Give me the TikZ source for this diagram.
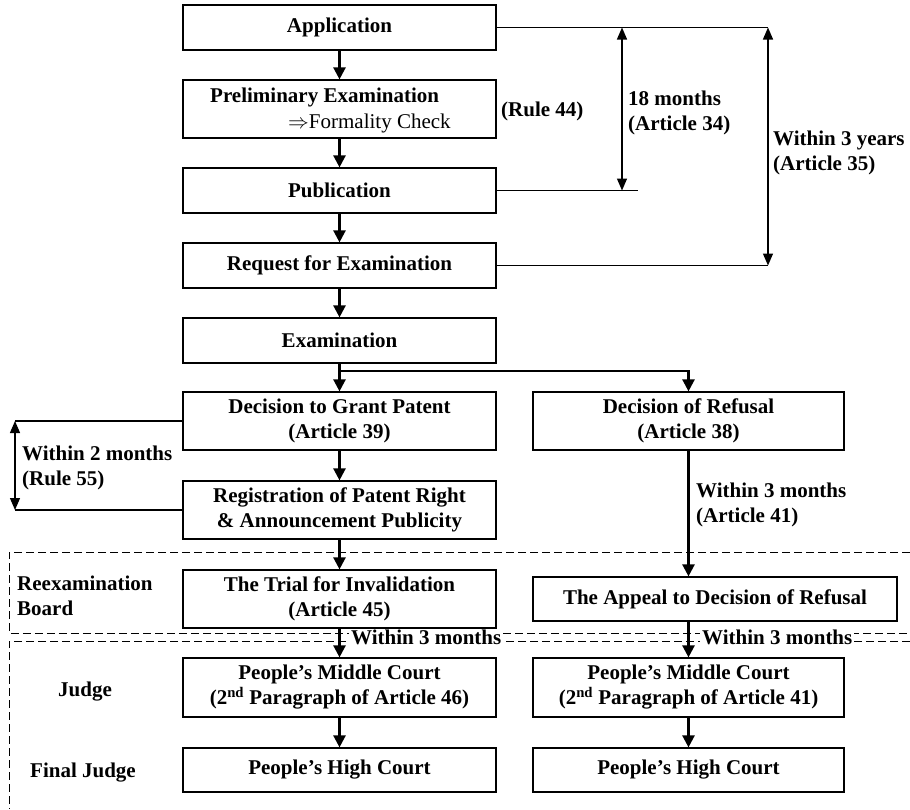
\documentclass[tikz,border=0pt]{standalone}
\usepackage{fontspec}
\setmainfont{Liberation Serif}
\usetikzlibrary{arrows.meta}
\begin{document}
\begin{tikzpicture}[x=1pt,y=-1pt,
  box/.style={draw, line width=1.2pt, minimum width=313pt, minimum height=45pt, inner sep=0pt, align=center, font=\fontsize{21}{25}\selectfont\bfseries},
  lbl/.style={inner sep=0pt, align=left, font=\fontsize{21}{25}\selectfont\bfseries},
  flow/.style={line width=2.4pt, -{Triangle[width=12pt,length=12pt]}},
  thin/.style={line width=1.2pt},
  dim/.style={line width=1.3pt, {Triangle[width=10pt,length=12pt]}-{Triangle[width=10pt,length=12pt]}},
  dsh/.style={line width=1pt, dash pattern=on 8pt off 4pt}]
\useasboundingbox (0,0) rectangle (910,809);
% boxes
\node[box] (app) at (339.5,27.5) {Application};
\node[box, minimum height=58pt] (pre) at (339.5,109) {};
\node[lbl, anchor=west] (preT) at (210,97) {Preliminary Examination};
\node[lbl, anchor=west, font=\fontsize{21}{25}\selectfont] (preF) at (288,123) {$\Rightarrow$Formality Check};
\node[box] (pub) at (339.5,190.5) {Publication};
\node[box] (req) at (339.5,265.5) {Request for Examination};
\node[box] (exam) at (339.5,340.5) {Examination};
\node[box, minimum height=58pt] (grant) at (339.5,421) {Decision to Grant Patent\\(Article 39)};
\node[box, minimum height=58pt, minimum width=311pt] (refusal) at (688.5,421) {Decision of Refusal\\(Article 38)};
\node[box, minimum height=58pt] (reg) at (339.5,510) {Registration of Patent Right\\\& Announcement Publicity};
\node[box, minimum height=58pt] (trial) at (339.5,599) {The Trial for Invalidation\\(Article 45)};
\node[box, minimum height=44pt, minimum width=364pt] (appeal) at (715,599) {The Appeal to Decision of Refusal};
\node[box, minimum height=59pt] (midL) at (339.5,687.5) {People's Middle Court\\(2\textsuperscript{nd} Paragraph of Article 46)};
\node[box, minimum height=59pt, minimum width=311pt] (midR) at (688.5,687.5) {People's Middle Court\\(2\textsuperscript{nd} Paragraph of Article 41)};
\node[box, minimum height=44pt] (highL) at (339.5,770) {People's High Court};
\node[box, minimum height=44pt, minimum width=311pt] (highR) at (688.5,770) {People's High Court};
% dashed regions
\draw[dsh] (910,552) -- (9,552) -- (9,633) -- (910,633);
\draw[dsh] (910,641) -- (9,641) -- (9,809);
% flow arrows
\draw[flow] (app) -- (pre);
\draw[flow] (pre) -- (pub);
\draw[flow] (pub) -- (req);
\draw[flow] (req) -- (exam);
\draw[flow] (exam) -- (grant);
\coordinate (br) at (339.5,371);
\draw[flow] (br) -| (refusal.north);
\draw[flow] (grant) -- (reg);
\draw[flow] (reg) -- (trial);
\draw[flow] (refusal.south) -- (refusal.south |- appeal.north);
\draw[flow] (trial) -- (midL);
\draw[flow] (appeal.south -| midR.north) -- (midR.north);
\draw[flow] (midL) -- (highL);
\draw[flow] (midR) -- (highR);
% side labels
\node[lbl, anchor=west] (r44) at (501,111) {(Rule 44)};
\coordinate (appE) at (768,27.5);
\coordinate (pubE) at (638,190.5);
\coordinate (reqE) at (768,265.5);
\draw[thin] (app.east) -- (appE);
\draw[thin] (pub.east) -- (pubE);
\draw[thin] (req.east) -- (reqE);
\coordinate (d1a) at (622,27.5);
\coordinate (d1b) at (622,190.5);
\draw[dim] (d1a) -- (d1b);
\draw[dim] (appE) -- (reqE);
\node[lbl, anchor=west] (m18) at (628,113) {18 months\\(Article 34)};
\node[lbl, anchor=west] (y3) at (773,153) {Within 3 years\\(Article 35)};
\coordinate (gW) at (15,421);
\coordinate (rW) at (15,510);
\draw[thin] (grant.west) -- (gW);
\draw[thin] (reg.west) -- (rW);
\draw[dim] (gW) -- (rW);
\node[lbl, anchor=west] (m2) at (22,468) {Within 2 months\\(Rule 55)};
\node[lbl, anchor=west] (m3a) at (696,505) {Within 3 months\\(Article 41)};
\node[lbl, anchor=west, fill=white, inner xsep=2pt] (m3b) at (349,637) {Within 3 months};
\node[lbl, anchor=west, fill=white, inner xsep=2pt] (m3c) at (700,637) {Within 3 months};
\node[lbl, anchor=west] (reb) at (17,596) {Reexamination\\Board};
\node[lbl] (judge) at (85,692) {Judge};
\node[lbl] (fjudge) at (83,773) {Final Judge};
\end{tikzpicture}
\end{document}
